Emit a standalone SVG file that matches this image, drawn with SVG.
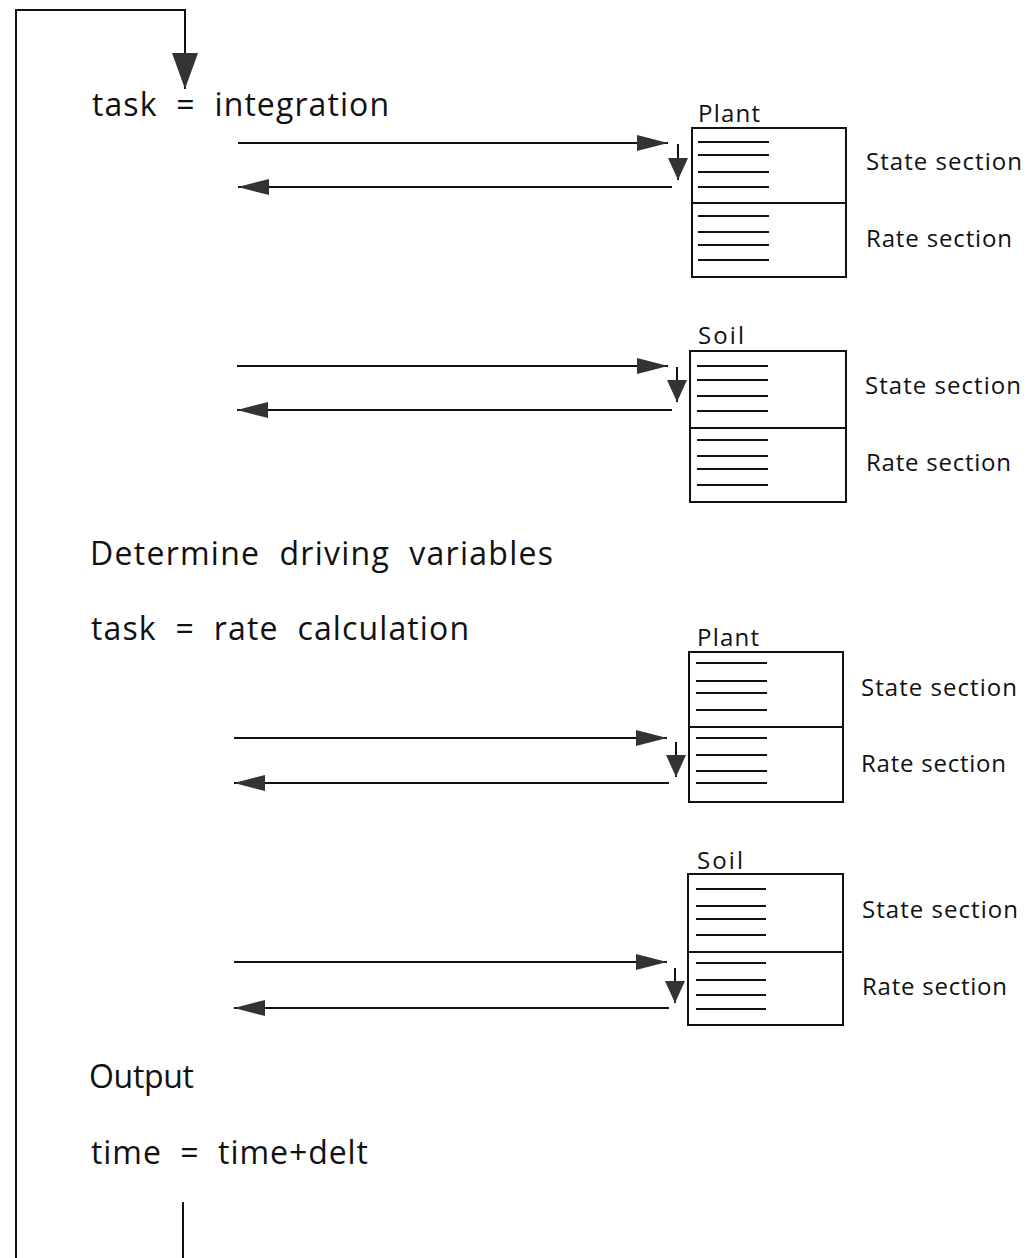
<svg xmlns="http://www.w3.org/2000/svg" width="1027" height="1258" viewBox="0 0 1027 1258">
<style>
text{white-space:pre;font-variant-ligatures:none}
.big{font-family:"Open Sans","Noto Sans","Liberation Sans",sans-serif;font-size:32px;fill:#111}
.sm{font-family:"Open Sans","Noto Sans","Liberation Sans",sans-serif;font-size:24px;fill:#111}
.box{fill:#fff;stroke:#111;stroke-width:2}
.ln{stroke:#111;stroke-width:2;fill:none}
.cn{stroke:#111;stroke-width:2;fill:none}
</style>
<defs>
<marker id="ah" markerUnits="userSpaceOnUse" markerWidth="32" markerHeight="16" refX="31" refY="8" orient="auto">
<path d="M0,0 L31,8 L0,16 z" fill="#333"/>
</marker>
<marker id="ahs" markerUnits="userSpaceOnUse" markerWidth="23" markerHeight="20" refX="22" refY="10" orient="auto">
<path d="M0,0 L22,10 L0,20 z" fill="#333"/>
</marker>
<marker id="ahb" markerUnits="userSpaceOnUse" markerWidth="37" markerHeight="26" refX="36" refY="13" orient="auto">
<path d="M0,0 L36,13 L0,26 z" fill="#333"/>
</marker>
</defs>

<g id="labels">
<text class="big" x="92" y="116" textLength="297" lengthAdjust="spacing">task  =  integration</text>
<text class="big" x="90" y="565" textLength="463" lengthAdjust="spacing">Determine  driving  variables</text>
<text class="big" x="91" y="640" textLength="378" lengthAdjust="spacing">task  =  rate  calculation</text>
<text class="big" x="89" y="1088" textLength="105" lengthAdjust="spacing">Output</text>
<text class="big" x="91" y="1164" textLength="277" lengthAdjust="spacing">time  =  time+delt</text>
</g>

<g id="plant1">
<text class="sm" x="698" y="122" textLength="62" lengthAdjust="spacing">Plant</text>
<rect class="box" x="692" y="128" width="154" height="149"/>
<line class="ln" x1="692" y1="203" x2="846" y2="203"/>
<g class="ln"><line x1="698" y1="142" x2="769" y2="142"/><line x1="698" y1="155" x2="769" y2="155"/><line x1="698" y1="172" x2="769" y2="172"/><line x1="698" y1="187" x2="769" y2="187"/>
<line x1="698" y1="216" x2="769" y2="216"/><line x1="698" y1="232" x2="769" y2="232"/><line x1="698" y1="245" x2="769" y2="245"/><line x1="698" y1="260" x2="769" y2="260"/></g>
<text class="sm" x="866" y="170" textLength="156" lengthAdjust="spacing">State section</text>
<text class="sm" x="866" y="247" textLength="146" lengthAdjust="spacing">Rate section</text>
</g>

<g id="soil1">
<text class="sm" x="698" y="344" textLength="46" lengthAdjust="spacing">Soil</text>
<rect class="box" x="690" y="351" width="156" height="151"/>
<line class="ln" x1="690" y1="428" x2="846" y2="428"/>
<g class="ln"><line x1="697" y1="366" x2="768" y2="366"/><line x1="697" y1="380" x2="768" y2="380"/><line x1="697" y1="396" x2="768" y2="396"/><line x1="697" y1="411" x2="768" y2="411"/>
<line x1="697" y1="440" x2="768" y2="440"/><line x1="697" y1="456" x2="768" y2="456"/><line x1="697" y1="469" x2="768" y2="469"/><line x1="697" y1="485" x2="768" y2="485"/></g>
<text class="sm" x="865" y="394" textLength="156" lengthAdjust="spacing">State section</text>
<text class="sm" x="866" y="471" textLength="145" lengthAdjust="spacing">Rate section</text>
</g>

<g id="plant2">
<text class="sm" x="697" y="646" textLength="62" lengthAdjust="spacing">Plant</text>
<rect class="box" x="689" y="652" width="154" height="150"/>
<line class="ln" x1="689" y1="727" x2="843" y2="727"/>
<g class="ln"><line x1="696" y1="663" x2="767" y2="663"/><line x1="696" y1="681" x2="767" y2="681"/><line x1="696" y1="693" x2="767" y2="693"/><line x1="696" y1="710" x2="767" y2="710"/>
<line x1="696" y1="738" x2="767" y2="738"/><line x1="696" y1="755" x2="767" y2="755"/><line x1="696" y1="771" x2="767" y2="771"/><line x1="696" y1="783" x2="767" y2="783"/></g>
<text class="sm" x="861" y="696" textLength="156" lengthAdjust="spacing">State section</text>
<text class="sm" x="861" y="772" textLength="145" lengthAdjust="spacing">Rate section</text>
</g>

<g id="soil2">
<text class="sm" x="697" y="869" textLength="46" lengthAdjust="spacing">Soil</text>
<rect class="box" x="688" y="874" width="155" height="151"/>
<line class="ln" x1="688" y1="952" x2="843" y2="952"/>
<g class="ln"><line x1="696" y1="889" x2="766" y2="889"/><line x1="696" y1="906" x2="766" y2="906"/><line x1="696" y1="919" x2="766" y2="919"/><line x1="696" y1="935" x2="766" y2="935"/>
<line x1="696" y1="963" x2="766" y2="963"/><line x1="696" y1="980" x2="766" y2="980"/><line x1="696" y1="995" x2="766" y2="995"/><line x1="696" y1="1009" x2="766" y2="1009"/></g>
<text class="sm" x="862" y="918" textLength="156" lengthAdjust="spacing">State section</text>
<text class="sm" x="862" y="995" textLength="145" lengthAdjust="spacing">Rate section</text>
</g>

<g id="connectors">
<path class="cn" d="M16,1258 L16,10 L185,10 L185,89" marker-end="url(#ahb)"/>
<line class="cn" x1="183" y1="1202" x2="183" y2="1258"/>

<line class="cn" x1="238" y1="143" x2="668" y2="143" marker-end="url(#ah)"/>
<line class="cn" x1="672" y1="187" x2="238" y2="187" marker-end="url(#ah)"/>
<line class="cn" x1="678" y1="144" x2="678" y2="180" marker-end="url(#ahs)"/>

<line class="cn" x1="237" y1="366" x2="668" y2="366" marker-end="url(#ah)"/>
<line class="cn" x1="672" y1="410" x2="237" y2="410" marker-end="url(#ah)"/>
<line class="cn" x1="677" y1="367" x2="677" y2="402" marker-end="url(#ahs)"/>

<line class="cn" x1="234" y1="738" x2="667" y2="738" marker-end="url(#ah)"/>
<line class="cn" x1="669" y1="783" x2="234" y2="783" marker-end="url(#ah)"/>
<line class="cn" x1="676" y1="742" x2="676" y2="777" marker-end="url(#ahs)"/>

<line class="cn" x1="234" y1="962" x2="667" y2="962" marker-end="url(#ah)"/>
<line class="cn" x1="669" y1="1008" x2="234" y2="1008" marker-end="url(#ah)"/>
<line class="cn" x1="675" y1="968" x2="675" y2="1003" marker-end="url(#ahs)"/>
</g>
</svg>
